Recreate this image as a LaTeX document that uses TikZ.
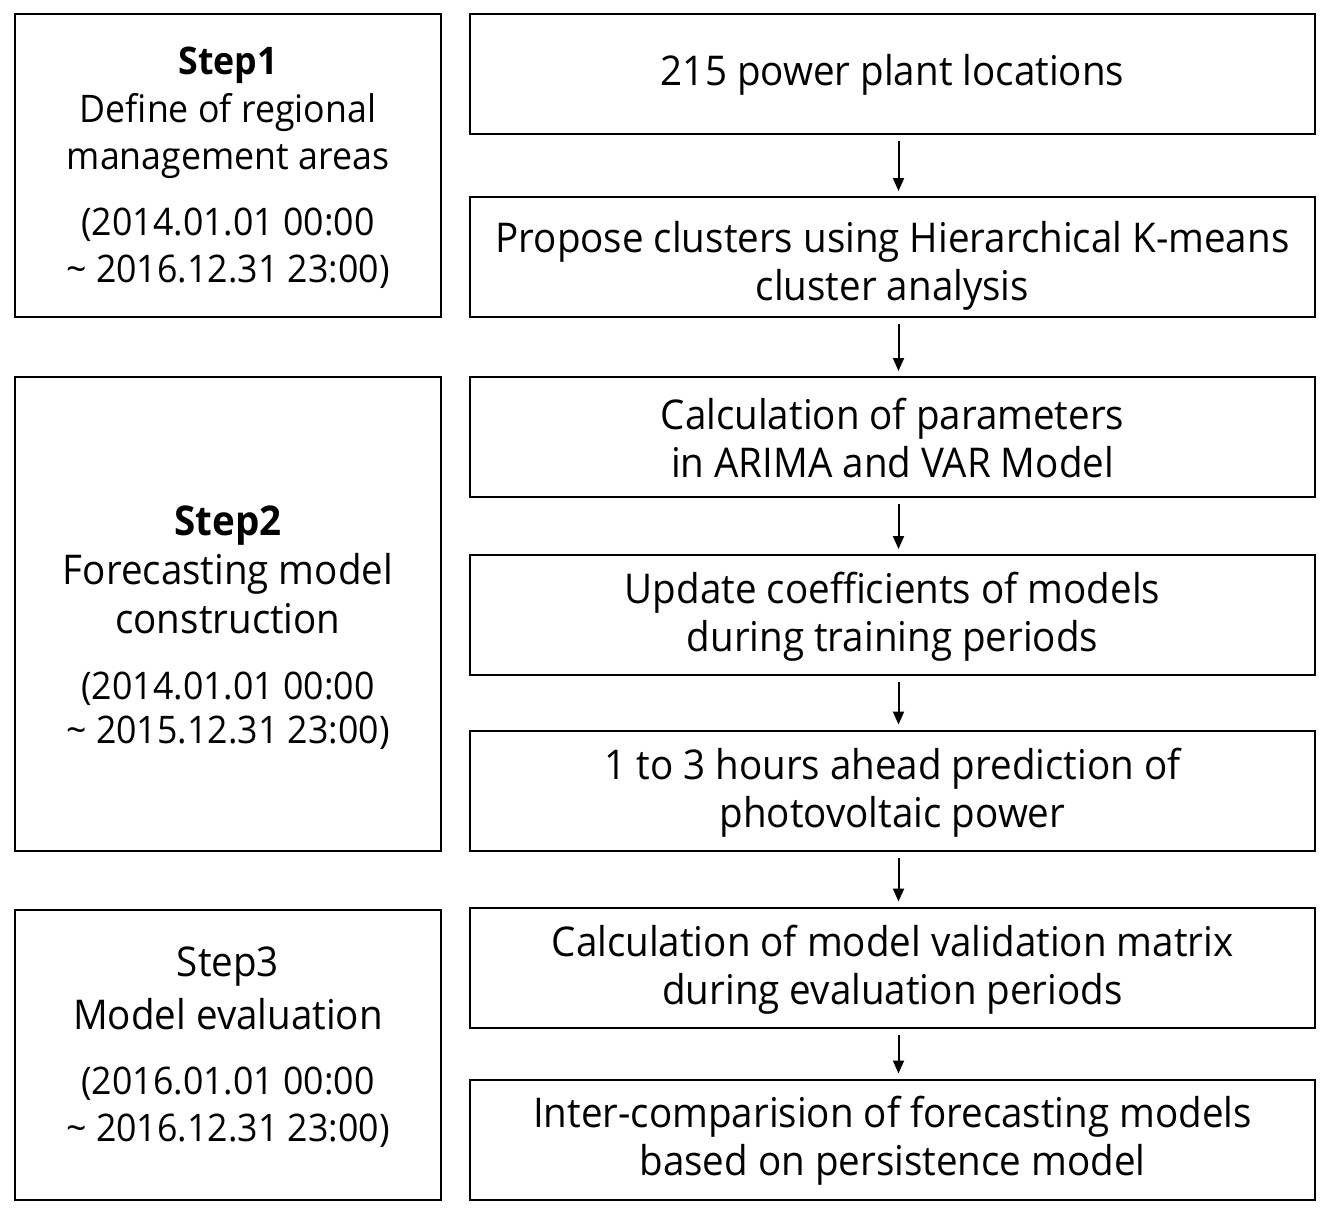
\documentclass[tikz,border=0pt]{standalone}
\usepackage{fontspec}
\setmainfont[FakeStretch=0.94]{Open Sans}
\usetikzlibrary{arrows.meta}
\begin{document}
\begin{tikzpicture}[x=1pt,y=-1pt,
  box/.style={draw=black, line width=2pt, rectangle, inner sep=0pt},
  rbox/.style={box, minimum width=845pt, minimum height=120pt},
  rtext/.style={align=center, inner sep=0pt, font=\fontsize{41}{48}\selectfont},
  lbox/.style={box, minimum width=426pt},
  ltext/.style={align=center, inner sep=0pt, font=\fontsize{38}{47.5}\selectfont},
  lbig/.style={align=center, inner sep=0pt, font=\fontsize{41}{49}\selectfont},
  flow/.style={line width=2pt, -{Triangle[width=11pt,length=13pt]}, shorten <=6pt, shorten >=5pt}
]
\useasboundingbox (0,0) rectangle (1326,1211);
% left step boxes
\node[lbox, minimum height=303pt] (L1) at (228,165.5) {};
\node[lbox, minimum height=474pt] (L2) at (228,614) {};
\node[lbox, minimum height=290pt] (L3) at (228,1055) {};
\node[ltext] (L1t) at (228,113) {\textbf{Step1}\\Define of regional\\management areas};
\node[ltext] (L1d) at (228,248) {(2014.01.01 00:00\\\textasciitilde{} 2016.12.31 23:00)};
\node[lbig] (L2t) at (228,570) {\textbf{Step2}\\Forecasting model\\construction};
\node[ltext, font=\fontsize{38}{44}\selectfont] (L2d) at (228,711) {(2014.01.01 00:00\\\textasciitilde{} 2015.12.31 23:00)};
\node[lbig, font=\fontsize{41}{53}\selectfont] (L3t) at (228,988) {Step3\\Model evaluation};
\node[ltext] (L3d) at (228,1107) {(2016.01.01 00:00\\\textasciitilde{} 2016.12.31 23:00)};
% right process boxes
\node[rbox] (A) at (892.5,74) {};
\node[rbox] (B) at (892.5,257) {};
\node[rbox] (C) at (892.5,437) {};
\node[rbox] (D) at (892.5,615) {};
\node[rbox] (E) at (892.5,790.5) {};
\node[rbox] (F) at (892.5,967.5) {};
\node[rbox] (G) at (892.5,1139.5) {};
\node[rtext] (At) at (892.5,75) {215 power plant locations};
\node[rtext] (Bt) at (892.5,266) {Propose clusters using Hierarchical K-means\\cluster analysis};
\node[rtext] (Ct) at (892.5,438) {Calculation of parameters\\in ARIMA and VAR Model};
\node[rtext] (Dt) at (892.5,617) {Update coefficients of models\\during training periods};
\node[rtext] (Et) at (892.5,793) {1 to 3 hours ahead prediction of\\photovoltaic power};
\node[rtext] (Ft) at (892.5,970) {Calculation of model validation matrix\\during evaluation periods};
\node[rtext] (Gt) at (892.5,1141) {Inter-comparision of forecasting models\\based on persistence model};
% arrows
\foreach \a/\b in {A/B,B/C,C/D,D/E,E/F,F/G}
  \draw[flow] ([xshift=6pt]\a.south) -- ([xshift=6pt]\b.north);
\end{tikzpicture}
\end{document}
